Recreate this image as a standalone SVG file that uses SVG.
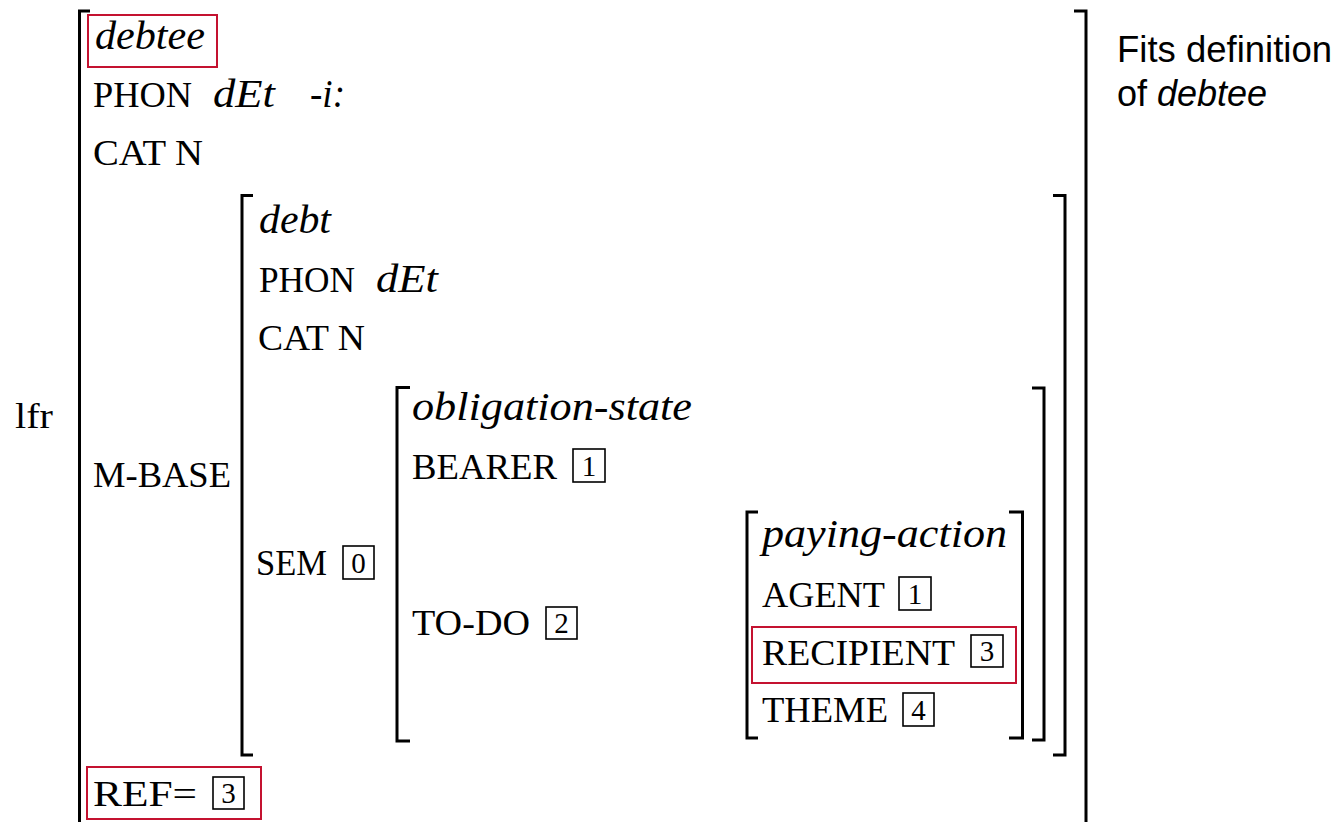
<svg xmlns="http://www.w3.org/2000/svg" width="1339" height="822" viewBox="0 0 1339 822">
<style>
.r{font-family:"Liberation Serif","Times New Roman",serif;font-size:35px;fill:#000}
.i{font-family:"Liberation Serif","Times New Roman",serif;font-size:40px;font-style:italic;fill:#000}
.d{font-family:"Liberation Serif","Times New Roman",serif;font-size:29px;fill:#000;text-anchor:middle}
.br{fill:none;stroke:#000;stroke-width:3}
.bx{fill:none;stroke:#000;stroke-width:1.6}
.hl{fill:none;stroke:#c41230;stroke-width:2}
.s{font-family:"Liberation Sans",Arial,sans-serif;font-size:36px;fill:#000}
</style>
<g id="brackets">
<path class="br" d="M90,11 H79.5 V830"/>
<path class="br" d="M1074,11 H1086 V830"/>
<path class="br" d="M253,195.5 H242 V755 H253"/>
<path class="br" d="M1053,195.5 H1065 V755 H1053"/>
<path class="br" d="M410,387.5 H397 V741 H410"/>
<path class="br" d="M1032,388 H1044 V740 H1032"/>
<path class="br" d="M758,512 H747 V738 H758"/>
<path class="br" d="M1009,512 H1022.5 V738 H1009"/>
</g>
<g id="outer">
<text class="r" x="15" y="428" textLength="38" lengthAdjust="spacingAndGlyphs">lfr</text>
<text class="i" x="95" y="49" textLength="110" lengthAdjust="spacingAndGlyphs">debtee</text>
<rect class="hl" x="88" y="15" width="129" height="52"/>
<text class="r" x="93" y="107" textLength="99" lengthAdjust="spacingAndGlyphs">PHON</text>
<text class="i" x="213" y="107" textLength="62" lengthAdjust="spacingAndGlyphs">dEt</text>
<text class="i" x="310" y="107" textLength="35" lengthAdjust="spacingAndGlyphs">-i:</text>
<text class="r" x="93" y="165" textLength="110" lengthAdjust="spacingAndGlyphs">CAT N</text>
<text class="r" x="93" y="487" textLength="138" lengthAdjust="spacingAndGlyphs">M-BASE</text>
<text class="r" x="93" y="806" textLength="104" lengthAdjust="spacingAndGlyphs">REF=</text>
<rect class="bx" x="213" y="777" width="31" height="32"/>
<text class="d" x="228.5" y="803">3</text>
<rect class="hl" x="87" y="767" width="174" height="52"/>
</g>
<g id="mbase">
<text class="i" x="259" y="233" textLength="72" lengthAdjust="spacingAndGlyphs">debt</text>
<text class="r" x="259" y="292" textLength="96" lengthAdjust="spacingAndGlyphs">PHON</text>
<text class="i" x="376" y="292" textLength="62" lengthAdjust="spacingAndGlyphs">dEt</text>
<text class="r" x="258" y="350" textLength="107" lengthAdjust="spacingAndGlyphs">CAT N</text>
<text class="r" x="256" y="575" textLength="71" lengthAdjust="spacingAndGlyphs">SEM</text>
<rect class="bx" x="343" y="546" width="31" height="33"/>
<text class="d" x="358.5" y="573">0</text>
</g>
<g id="sem">
<text class="i" x="412" y="420" textLength="280" lengthAdjust="spacingAndGlyphs">obligation-state</text>
<text class="r" x="412" y="479" textLength="145" lengthAdjust="spacingAndGlyphs">BEARER</text>
<rect class="bx" x="573" y="449" width="32" height="33"/>
<text class="d" x="589" y="476">1</text>
<text class="r" x="412" y="635" textLength="118" lengthAdjust="spacingAndGlyphs">TO-DO</text>
<rect class="bx" x="546" y="607" width="31" height="32"/>
<text class="d" x="561.5" y="633">2</text>
</g>
<g id="todo">
<text class="i" x="762" y="547" textLength="245" lengthAdjust="spacingAndGlyphs">paying-action</text>
<text class="r" x="762" y="607" textLength="123" lengthAdjust="spacingAndGlyphs">AGENT</text>
<rect class="bx" x="899" y="577" width="32" height="33"/>
<text class="d" x="915" y="604">1</text>
<text class="r" x="762" y="665" textLength="193" lengthAdjust="spacingAndGlyphs">RECIPIENT</text>
<rect class="bx" x="971" y="635" width="32" height="32"/>
<text class="d" x="987" y="661">3</text>
<rect class="hl" x="752" y="627" width="264" height="56"/>
<text class="r" x="762" y="722" textLength="126" lengthAdjust="spacingAndGlyphs">THEME</text>
<rect class="bx" x="903" y="693" width="31" height="33"/>
<text class="d" x="918.5" y="720">4</text>
</g>
<g id="note">
<text class="s" x="1117" y="62" textLength="215" lengthAdjust="spacingAndGlyphs">Fits definition</text>
<text class="s" x="1117" y="106">of <tspan font-style="italic">debtee</tspan></text>
</g>
</svg>
